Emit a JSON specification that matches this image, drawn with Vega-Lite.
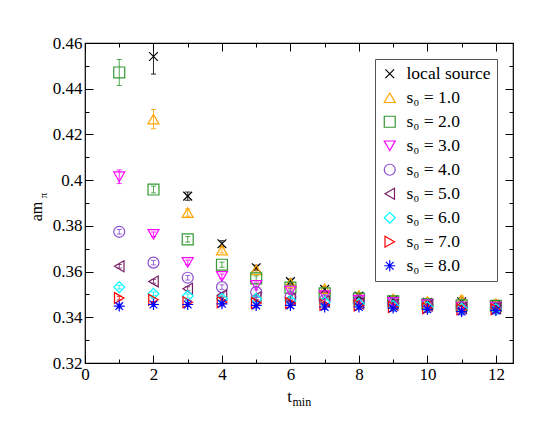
{
  "$schema": "https://vega.github.io/schema/vega-lite/v6.json",
  "width": 428,
  "height": 320,
  "autosize": {"type": "none"},
  "padding": {"left": 85, "top": 43, "right": 41, "bottom": 65},
  "background": "white",
  "config": {
    "font": "'Liberation Serif', 'Times New Roman', 'DejaVu Serif', serif",
    "view": {"stroke": "black", "strokeWidth": 1.2},
    "axis": {
      "labelFont": "'Liberation Serif', 'Times New Roman', 'DejaVu Serif', serif", "labelFontSize": 17, "labelColor": "black",
      "titleFont": "'Liberation Serif', 'Times New Roman', 'DejaVu Serif', serif", "titleFontWeight": "normal", "titleColor": "black",
      "tickColor": "black", "tickWidth": 1, "domain": false, "grid": false
    },
    "legend": {
      "orient": "top-right", "offset": 16, "padding": 6,
      "strokeColor": "#555555", "fillColor": "white",
      "labelFont": "'Liberation Serif', 'Times New Roman', 'DejaVu Serif', serif", "labelFontSize": 17.5, "labelColor": "black",
      "symbolSize": 120, "symbolStrokeWidth": 1.2, "rowPadding": 5, "labelOffset": 8
    }
  },
  "data": {
    "values": [
      {"s": "local source", "t": 2, "v": 0.4541, "e": 0.0077},
      {"s": "local source", "t": 3, "v": 0.393, "e": 0.0018},
      {"s": "local source", "t": 4, "v": 0.3722, "e": 0.0013},
      {"s": "local source", "t": 5, "v": 0.3617, "e": 0.0011},
      {"s": "local source", "t": 6, "v": 0.3556, "e": 0.0011},
      {"s": "local source", "t": 7, "v": 0.3522, "e": 0.0012},
      {"s": "local source", "t": 8, "v": 0.3493, "e": 0.0013},
      {"s": "local source", "t": 9, "v": 0.3476, "e": 0.0014},
      {"s": "local source", "t": 10, "v": 0.3465, "e": 0.0015},
      {"s": "local source", "t": 11, "v": 0.3468, "e": 0.0017},
      {"s": "local source", "t": 12, "v": 0.3455, "e": 0.0018},
      {"s": "s₀ = 1.0", "t": 2, "v": 0.4267, "e": 0.0042},
      {"s": "s₀ = 1.0", "t": 3, "v": 0.3858, "e": 0.0016},
      {"s": "s₀ = 1.0", "t": 4, "v": 0.3694, "e": 0.0012},
      {"s": "s₀ = 1.0", "t": 5, "v": 0.3607, "e": 0.001},
      {"s": "s₀ = 1.0", "t": 6, "v": 0.355, "e": 0.001},
      {"s": "s₀ = 1.0", "t": 7, "v": 0.3525, "e": 0.0011},
      {"s": "s₀ = 1.0", "t": 8, "v": 0.3496, "e": 0.0012},
      {"s": "s₀ = 1.0", "t": 9, "v": 0.3481, "e": 0.0013},
      {"s": "s₀ = 1.0", "t": 10, "v": 0.3469, "e": 0.0014},
      {"s": "s₀ = 1.0", "t": 11, "v": 0.3477, "e": 0.0016},
      {"s": "s₀ = 1.0", "t": 12, "v": 0.3459, "e": 0.0017},
      {"s": "s₀ = 2.0", "t": 1, "v": 0.4471, "e": 0.0057},
      {"s": "s₀ = 2.0", "t": 2, "v": 0.3959, "e": 0.0015},
      {"s": "s₀ = 2.0", "t": 3, "v": 0.3741, "e": 0.0012},
      {"s": "s₀ = 2.0", "t": 4, "v": 0.363, "e": 0.0011},
      {"s": "s₀ = 2.0", "t": 5, "v": 0.357, "e": 0.0011},
      {"s": "s₀ = 2.0", "t": 6, "v": 0.353, "e": 0.0011},
      {"s": "s₀ = 2.0", "t": 7, "v": 0.3505, "e": 0.0012},
      {"s": "s₀ = 2.0", "t": 8, "v": 0.3482, "e": 0.0012},
      {"s": "s₀ = 2.0", "t": 9, "v": 0.347, "e": 0.0013},
      {"s": "s₀ = 2.0", "t": 10, "v": 0.3457, "e": 0.0014},
      {"s": "s₀ = 2.0", "t": 11, "v": 0.3452, "e": 0.0015},
      {"s": "s₀ = 2.0", "t": 12, "v": 0.345, "e": 0.0016},
      {"s": "s₀ = 3.0", "t": 1, "v": 0.4015, "e": 0.003},
      {"s": "s₀ = 3.0", "t": 2, "v": 0.3763, "e": 0.001},
      {"s": "s₀ = 3.0", "t": 3, "v": 0.364, "e": 0.001},
      {"s": "s₀ = 3.0", "t": 4, "v": 0.3579, "e": 0.001},
      {"s": "s₀ = 3.0", "t": 5, "v": 0.354, "e": 0.001},
      {"s": "s₀ = 3.0", "t": 6, "v": 0.3515, "e": 0.0011},
      {"s": "s₀ = 3.0", "t": 7, "v": 0.3495, "e": 0.0011},
      {"s": "s₀ = 3.0", "t": 8, "v": 0.3475, "e": 0.0012},
      {"s": "s₀ = 3.0", "t": 9, "v": 0.3465, "e": 0.0012},
      {"s": "s₀ = 3.0", "t": 10, "v": 0.3455, "e": 0.0013},
      {"s": "s₀ = 3.0", "t": 11, "v": 0.3445, "e": 0.0014},
      {"s": "s₀ = 3.0", "t": 12, "v": 0.3445, "e": 0.0015},
      {"s": "s₀ = 4.0", "t": 1, "v": 0.3774, "e": 0.001},
      {"s": "s₀ = 4.0", "t": 2, "v": 0.3639, "e": 0.001},
      {"s": "s₀ = 4.0", "t": 3, "v": 0.3573, "e": 0.001},
      {"s": "s₀ = 4.0", "t": 4, "v": 0.3532, "e": 0.001},
      {"s": "s₀ = 4.0", "t": 5, "v": 0.351, "e": 0.001},
      {"s": "s₀ = 4.0", "t": 6, "v": 0.3488, "e": 0.0011},
      {"s": "s₀ = 4.0", "t": 7, "v": 0.3475, "e": 0.0011},
      {"s": "s₀ = 4.0", "t": 8, "v": 0.347, "e": 0.0012},
      {"s": "s₀ = 4.0", "t": 9, "v": 0.346, "e": 0.0012},
      {"s": "s₀ = 4.0", "t": 10, "v": 0.3455, "e": 0.0013},
      {"s": "s₀ = 4.0", "t": 11, "v": 0.3445, "e": 0.0014},
      {"s": "s₀ = 4.0", "t": 12, "v": 0.344, "e": 0.0015},
      {"s": "s₀ = 5.0", "t": 1, "v": 0.3623, "e": 0.0008},
      {"s": "s₀ = 5.0", "t": 2, "v": 0.3557, "e": 0.0008},
      {"s": "s₀ = 5.0", "t": 3, "v": 0.3525, "e": 0.0009},
      {"s": "s₀ = 5.0", "t": 4, "v": 0.3496, "e": 0.0009},
      {"s": "s₀ = 5.0", "t": 5, "v": 0.3488, "e": 0.001},
      {"s": "s₀ = 5.0", "t": 6, "v": 0.348, "e": 0.001},
      {"s": "s₀ = 5.0", "t": 7, "v": 0.347, "e": 0.0011},
      {"s": "s₀ = 5.0", "t": 8, "v": 0.346, "e": 0.0011},
      {"s": "s₀ = 5.0", "t": 9, "v": 0.3455, "e": 0.0012},
      {"s": "s₀ = 5.0", "t": 10, "v": 0.345, "e": 0.0013},
      {"s": "s₀ = 5.0", "t": 11, "v": 0.344, "e": 0.0014},
      {"s": "s₀ = 5.0", "t": 12, "v": 0.344, "e": 0.0015},
      {"s": "s₀ = 6.0", "t": 1, "v": 0.3532, "e": 0.0008},
      {"s": "s₀ = 6.0", "t": 2, "v": 0.3503, "e": 0.0008},
      {"s": "s₀ = 6.0", "t": 3, "v": 0.3493, "e": 0.0009},
      {"s": "s₀ = 6.0", "t": 4, "v": 0.3481, "e": 0.0009},
      {"s": "s₀ = 6.0", "t": 5, "v": 0.348, "e": 0.001},
      {"s": "s₀ = 6.0", "t": 6, "v": 0.3472, "e": 0.001},
      {"s": "s₀ = 6.0", "t": 7, "v": 0.3465, "e": 0.0011},
      {"s": "s₀ = 6.0", "t": 8, "v": 0.3458, "e": 0.0011},
      {"s": "s₀ = 6.0", "t": 9, "v": 0.345, "e": 0.0012},
      {"s": "s₀ = 6.0", "t": 10, "v": 0.3445, "e": 0.0013},
      {"s": "s₀ = 6.0", "t": 11, "v": 0.3438, "e": 0.0014},
      {"s": "s₀ = 6.0", "t": 12, "v": 0.3435, "e": 0.0015},
      {"s": "s₀ = 7.0", "t": 1, "v": 0.3484, "e": 0.0008},
      {"s": "s₀ = 7.0", "t": 2, "v": 0.3477, "e": 0.0008},
      {"s": "s₀ = 7.0", "t": 3, "v": 0.3466, "e": 0.0009},
      {"s": "s₀ = 7.0", "t": 4, "v": 0.3466, "e": 0.0009},
      {"s": "s₀ = 7.0", "t": 5, "v": 0.3462, "e": 0.001},
      {"s": "s₀ = 7.0", "t": 6, "v": 0.3462, "e": 0.001},
      {"s": "s₀ = 7.0", "t": 7, "v": 0.3455, "e": 0.0011},
      {"s": "s₀ = 7.0", "t": 8, "v": 0.3452, "e": 0.0011},
      {"s": "s₀ = 7.0", "t": 9, "v": 0.3445, "e": 0.0012},
      {"s": "s₀ = 7.0", "t": 10, "v": 0.344, "e": 0.0013},
      {"s": "s₀ = 7.0", "t": 11, "v": 0.3435, "e": 0.0014},
      {"s": "s₀ = 7.0", "t": 12, "v": 0.3435, "e": 0.0015},
      {"s": "s₀ = 8.0", "t": 1, "v": 0.3449, "e": 0.0008},
      {"s": "s₀ = 8.0", "t": 2, "v": 0.3456, "e": 0.0008},
      {"s": "s₀ = 8.0", "t": 3, "v": 0.3456, "e": 0.0009},
      {"s": "s₀ = 8.0", "t": 4, "v": 0.3459, "e": 0.0009},
      {"s": "s₀ = 8.0", "t": 5, "v": 0.3452, "e": 0.001},
      {"s": "s₀ = 8.0", "t": 6, "v": 0.3452, "e": 0.001},
      {"s": "s₀ = 8.0", "t": 7, "v": 0.3445, "e": 0.0011},
      {"s": "s₀ = 8.0", "t": 8, "v": 0.3445, "e": 0.0011},
      {"s": "s₀ = 8.0", "t": 9, "v": 0.344, "e": 0.0012},
      {"s": "s₀ = 8.0", "t": 10, "v": 0.3435, "e": 0.0013},
      {"s": "s₀ = 8.0", "t": 11, "v": 0.3425, "e": 0.0014},
      {"s": "s₀ = 8.0", "t": 12, "v": 0.343, "e": 0.0015}
    ]
  },
  "layer": [
    {
      "mark": {"type": "errorbar", "ticks": {"size": 5, "thickness": 1}, "thickness": 1, "clip": true, "opacity": 0.85},
      "encoding": {
        "x": {"field": "t", "type": "quantitative", "scale": {"domain": [0, 12.5], "nice": false, "zero": false},
          "axis": {"orient": "bottom", "values": [0, 2, 4, 6, 8, 10, 12], "tickSize": -8, "labelPadding": 11, "labelFlush": false,
            "title": "t", "titleFontSize": 17, "titleX": 204, "titleY": 38, "titleAlign": "center", "titleBaseline": "alphabetic"}},
        "y": {"field": "v", "type": "quantitative", "scale": {"domain": [0.32, 0.46], "nice": false, "zero": false},
          "axis": {"orient": "left", "values": [0.32, 0.34, 0.36, 0.38, 0.4, 0.42, 0.44, 0.46], "format": "~g", "tickSize": -8, "labelPadding": 11, "labelFlush": false,
            "title": "am", "titleFontSize": 16, "titleAngle": 270, "titleX": -49, "titleY": 168, "titleAlign": "center", "titleBaseline": "middle"}},
        "yError": {"field": "e"},
        "color": {"field": "s", "type": "nominal", "legend": null,
          "scale": {"domain": ["local source", "s₀ = 1.0", "s₀ = 2.0", "s₀ = 3.0", "s₀ = 4.0", "s₀ = 5.0", "s₀ = 6.0", "s₀ = 7.0", "s₀ = 8.0"],
            "range": ["#000000", "#ffa500", "#339933", "#ff00ff", "#8b4fd1", "#7a1f66", "#00ffff", "#ff0000", "#0000ff"]}}
      }
    },
    {
      "mark": {"type": "point", "filled": false, "strokeWidth": 1.2, "size": 120, "opacity": 1},
      "encoding": {
        "x": {"field": "t", "type": "quantitative", "scale": {"domain": [0, 12.5], "nice": false, "zero": false},
          "axis": {"orient": "bottom", "values": [1, 3, 5, 7, 9, 11], "tickSize": -4, "labels": false,
            "title": "min", "titleFontSize": 12, "titleX": 207, "titleY": 42, "titleAlign": "left", "titleBaseline": "alphabetic"}},
        "y": {"field": "v", "type": "quantitative", "scale": {"domain": [0.32, 0.46], "nice": false, "zero": false},
          "axis": {"orient": "left", "values": [0.33, 0.35, 0.37, 0.39, 0.41, 0.43, 0.45], "tickSize": -4, "labels": false,
            "title": "π", "titleFontSize": 11, "titleAngle": 270, "titleX": -42, "titleY": 152, "titleAlign": "center", "titleBaseline": "middle"}},
        "color": {"field": "s", "type": "nominal", "title": null,
          "scale": {"domain": ["local source", "s₀ = 1.0", "s₀ = 2.0", "s₀ = 3.0", "s₀ = 4.0", "s₀ = 5.0", "s₀ = 6.0", "s₀ = 7.0", "s₀ = 8.0"],
            "range": ["#000000", "#ffa500", "#339933", "#ff00ff", "#8b4fd1", "#7a1f66", "#00ffff", "#ff0000", "#0000ff"]}},
        "shape": {"field": "s", "type": "nominal", "title": null,
          "scale": {"domain": ["local source", "s₀ = 1.0", "s₀ = 2.0", "s₀ = 3.0", "s₀ = 4.0", "s₀ = 5.0", "s₀ = 6.0", "s₀ = 7.0", "s₀ = 8.0"],
            "range": ["M-0.8,-0.8L0.8,0.8M-0.8,0.8L0.8,-0.8", "triangle-up", "square", "triangle-down", "circle", "triangle-left", "diamond", "triangle-right", "M-1,0L1,0M0,-1L0,1M-0.7,-0.7L0.7,0.7M-0.7,0.7L0.7,-0.7"]}}
      }
    },
    {
      "mark": {"type": "point", "opacity": 0},
      "encoding": {
        "x": {"field": "t", "type": "quantitative", "scale": {"domain": [0, 12.5], "nice": false, "zero": false},
          "axis": {"orient": "top", "values": [0, 2, 4, 6, 8, 10, 12], "tickSize": -8, "labels": false, "title": null}},
        "y": {"field": "v", "type": "quantitative", "scale": {"domain": [0.32, 0.46], "nice": false, "zero": false},
          "axis": {"orient": "right", "values": [0.32, 0.34, 0.36, 0.38, 0.4, 0.42, 0.44, 0.46], "tickSize": -8, "labels": false, "title": null}}
      }
    },
    {
      "mark": {"type": "point", "opacity": 0},
      "encoding": {
        "x": {"field": "t", "type": "quantitative", "scale": {"domain": [0, 12.5], "nice": false, "zero": false},
          "axis": {"orient": "top", "values": [1, 3, 5, 7, 9, 11], "tickSize": -4, "labels": false, "title": null}},
        "y": {"field": "v", "type": "quantitative", "scale": {"domain": [0.32, 0.46], "nice": false, "zero": false},
          "axis": {"orient": "right", "values": [0.33, 0.35, 0.37, 0.39, 0.41, 0.43, 0.45], "tickSize": -4, "labels": false, "title": null}}
      }
    }
  ],
  "resolve": {
    "axis": {"x": "independent", "y": "independent"},
    "legend": {"color": "independent", "shape": "independent"}
  }
}
